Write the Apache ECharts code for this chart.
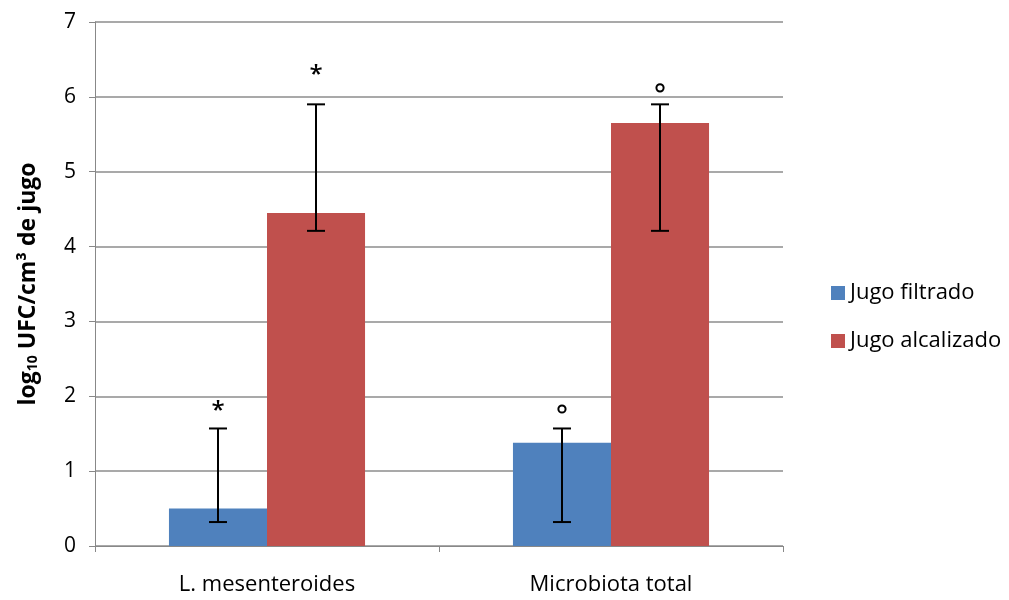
<!DOCTYPE html>
<html><head><meta charset="utf-8">
<script src="https://cdn.jsdelivr.net/npm/echarts@6/dist/echarts.min.js"></script>
<style>html,body{margin:0;padding:0;background:#fff}#c{width:1009px;height:600px}</style>
</head><body><div id="c"></div>
<script>
const categories = ['L. mesenteroides', 'Microbiota total'];
const seriesNames = ['Jugo filtrado', 'Jugo alcalizado'];
const filtrado = [0.5, 1.38];
const alcalizado = [4.45, 5.65];
const filtradoErrLow = [0.32, 0.32];
const filtradoErrHigh = [1.57, 1.57];
const alcalizadoErrLow = [4.21, 4.21];
const alcalizadoErrHigh = [5.9, 5.9];
const filtradoMarks = ['*', '°'];
const alcalizadoMarks = ['*', '°'];
const filtradoMarkY = [1.87, 1.83];
const alcalizadoMarkY = [6.36, 6.12];
const yTicks = [0, 1, 2, 3, 4, 5, 6, 7];

const colors = ['#4F81BD', '#C0504D'];
const FONT = '"Open Sans", "Liberation Sans", sans-serif';
const chart = echarts.init(document.getElementById('c'));

function errSeries(lows, highs, marks, markY, idx) {
  return {
    type: 'custom',
    name: seriesNames[idx] + ' err',
    data: categories.map((c, i) => [i, lows[i], highs[i], markY[i]]),
    z: 10,
    renderItem: function (params, api) {
      const ci = api.value(0);
      const lo = api.coord([ci, api.value(1)]);
      const hi = api.coord([ci, api.value(2)]);
      const mk = api.coord([ci, api.value(3)]);
      const bandW = api.size([1, 0])[0];
      const barW = bandW * 0.57 / 2;
      const x = lo[0] + (idx === 0 ? -barW / 2 : barW / 2);
      const cap = 9;
      const st = { stroke: '#000', lineWidth: 2 };
      const mark = marks[params.dataIndex];
      const children = [
        { type: 'line', shape: { x1: x, y1: lo[1], x2: x, y2: hi[1] }, style: st },
        { type: 'line', shape: { x1: x - cap, y1: lo[1], x2: x + cap, y2: lo[1] }, style: st },
        { type: 'line', shape: { x1: x - cap, y1: hi[1], x2: x + cap, y2: hi[1] }, style: st }
      ];
      if (mark === '°') {
        children.push({ type: 'circle', shape: { cx: x, cy: mk[1], r: 3.6 }, style: { fill: 'none', stroke: '#000', lineWidth: 2 } });
      } else {
        children.push({ type: 'text', x: x, y: mk[1] + 5,
          style: { text: mark, fill: '#000', font: '600 24px ' + FONT, align: 'center', verticalAlign: 'middle' } });
      }
      return { type: 'group', children: children };
    }
  };
}

chart.setOption({
  animation: false,
  color: colors,
  grid: { left: 95, right: 226, top: 22, bottom: 54, containLabel: false },
  legend: {
    orient: 'vertical', left: 826, top: 277, itemGap: 26,
    itemWidth: 14, itemHeight: 14, icon: 'rect',
    data: seriesNames,
    textStyle: { fontFamily: FONT, fontSize: 22, color: '#000' }
  },
  xAxis: {
    type: 'category', data: categories,
    axisLine: { lineStyle: { color: '#888', width: 1 } },
    axisTick: { show: true, length: 6, lineStyle: { color: '#888' } },
    axisLabel: { color: '#000', fontFamily: FONT, fontSize: 22, margin: 28 }
  },
  yAxis: {
    type: 'value', min: yTicks[0], max: yTicks[yTicks.length - 1], interval: 1,
    name: '{a|log}{s|10}{a| UFC/cm³ de jugo}',
    nameLocation: 'middle', nameGap: 55, nameRotate: 90,
    nameTextStyle: {
      rich: {
        a: { fontFamily: FONT, fontSize: 23, fontWeight: 'bold', color: '#000' },
        s: { fontFamily: FONT, fontSize: 14, fontWeight: 'bold', color: '#000', verticalAlign: 'bottom', padding: [9, 0, 0, 0] }
      }
    },
    axisLine: { show: true, lineStyle: { color: '#888', width: 1 } },
    axisTick: { show: true, length: 6, lineStyle: { color: '#888' } },
    axisLabel: { color: '#000', fontFamily: FONT, fontSize: 21, margin: 19 },
    splitLine: { lineStyle: { color: '#8c8c8c', width: 1.5 } }
  },
  series: [
    { type: 'bar', name: seriesNames[0], data: filtrado, barGap: '0%', barCategoryGap: '43%', itemStyle: { color: colors[0] } },
    { type: 'bar', name: seriesNames[1], data: alcalizado, barGap: '0%', barCategoryGap: '43%', itemStyle: { color: colors[1] } },
    errSeries(filtradoErrLow, filtradoErrHigh, filtradoMarks, filtradoMarkY, 0),
    errSeries(alcalizadoErrLow, alcalizadoErrHigh, alcalizadoMarks, alcalizadoMarkY, 1)
  ]
});
</script></body></html>
